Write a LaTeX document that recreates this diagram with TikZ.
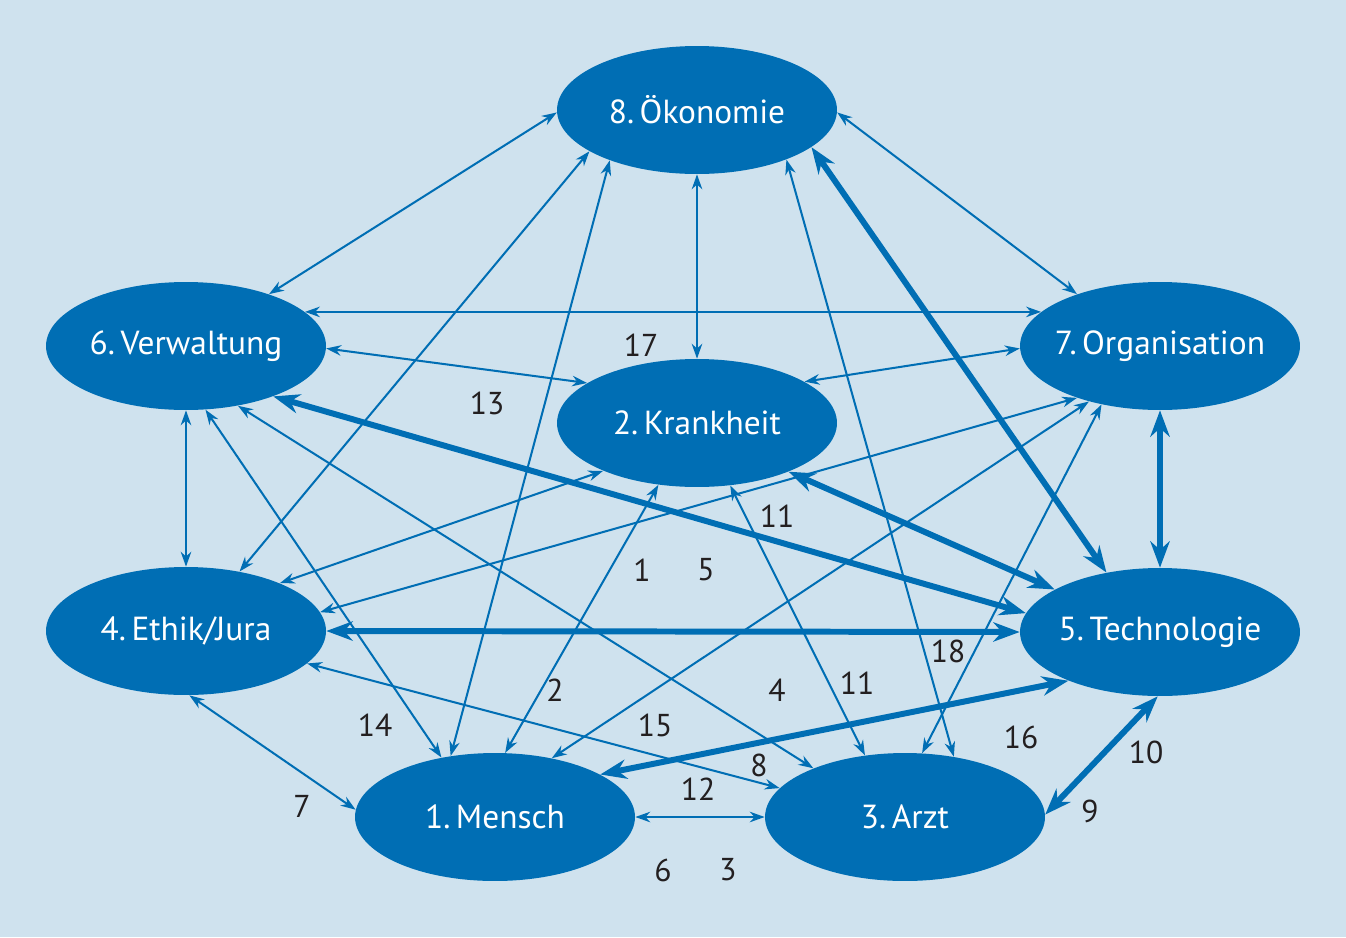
\documentclass[tikz,border=0pt]{standalone}
\usepackage{fontspec}
\setmainfont{PT Sans}
\usetikzlibrary{shapes.geometric,arrows.meta}
\definecolor{bgblue}{HTML}{CFE2EE}
\definecolor{fieldblue}{HTML}{006EB4}
\definecolor{numgray}{HTML}{231F20}
\tikzset{%
    field/.style={%
        ellipse, fill=fieldblue, text=white,
        inner xsep=-1.5cm, inner ysep=0pt,
        minimum width=5.6cm, minimum height=2.56cm,
        font=\fontsize{19}{22}\selectfont},
    link/.style={%
        draw=fieldblue, line width=1.15pt,
        >={Stealth[length=8.5pt,width=6pt]}, <->},
    strong/.style={%
        draw=fieldblue, line width=3.4pt,
        >={Stealth[length=15pt,width=11pt]}, <->},
    num/.style={text=numgray, font=\fontsize{18}{20}\selectfont}
}
\begin{document}
\begin{tikzpicture}[x=0.02cm,y=-0.02cm]
    \fill[bgblue] (0,0) rectangle (1346,937);
    \useasboundingbox (0,0) rectangle (1346,937);
    % the eight fields
    \node[field] (oekonomie) at (697,110) {8.\,Ökonomie};
    \node[field] (verwaltung) at (186,346) {6.\,Verwaltung};
    \node[field] (organisation) at (1160,346) {7.\,Organisation};
    \node[field] (krankheit) at (697,423) {2.\,Krankheit};
    \node[field] (ethik) at (186,631) {4.\,Ethik/Jura};
    \node[field] (technologie) at (1160,632) {5.\,Technologie};
    \node[field] (mensch) at (495,817) {1.\,Mensch};
    \node[field] (arzt) at (905,817) {3.\,Arzt};
    % thin links
    \draw[link] (oekonomie.181) -- (verwaltung.32);
    \draw[link] (oekonomie.359) -- (organisation.148);
    \draw[link] (oekonomie.270) -- (krankheit.90);
    \draw[link] (oekonomie.201) -- (ethik.48);
    \draw[link] (oekonomie.210) -- (mensch.126);
    \draw[link] (oekonomie.331) -- (arzt.51);
    \draw[link] (verwaltung.16) -- (organisation.164);
    \draw[link] (verwaltung.359) -- (krankheit.160);
    \draw[link] (organisation.181) -- (krankheit.21);
    \draw[link] (verwaltung.270) -- (ethik.90);
    \draw[link] (verwaltung.287) -- (mensch.132);
    \draw[link] (verwaltung.311) -- (arzt.152);
    \draw[link] (krankheit.207) -- (ethik.27);
    \draw[link] (organisation.212) -- (ethik.8);
    \draw[link] (organisation.218) -- (mensch.46);
    \draw[link] (organisation.225) -- (arzt.75);
    \draw[link] (krankheit.238) -- (mensch.81);
    \draw[link] (krankheit.298) -- (arzt.123);
    \draw[link] (ethik.273) -- (mensch.177);
    \draw[link] (ethik.345) -- (arzt.167);
    \draw[link] (mensch.0) -- (arzt.180);
    % strong links
    \draw[strong] (oekonomie.342) -- (technologie.132);
    \draw[strong] (organisation.270) -- (technologie.90);
    \draw[strong] (verwaltung.330) -- (technologie.172);
    \draw[strong] (krankheit.332) -- (technologie.158);
    \draw[strong] (ethik.0) -- (technologie.180);
    \draw[strong] (technologie.208) -- (mensch.22);
    \draw[strong] (technologie.268) -- (arzt.1);
    % numbers
    \foreach \x/\y/\t [count=\i] in {641/345/17, 487/403/13, 777/516/11,
        642/570/1, 706/570/5, 948/651/18, 555/690/2, 777/690/4, 857/683/11,
        375/725/14, 655/725/15, 1021/737/16, 759/765/8, 698/789/12,
        1146/752/10, 1090/811/9, 302/806/7, 663/870/6, 728/870/3}
    {
    \node[num] (num\i) at (\x,\y) {\t};
    }
\end{tikzpicture}
\end{document}
